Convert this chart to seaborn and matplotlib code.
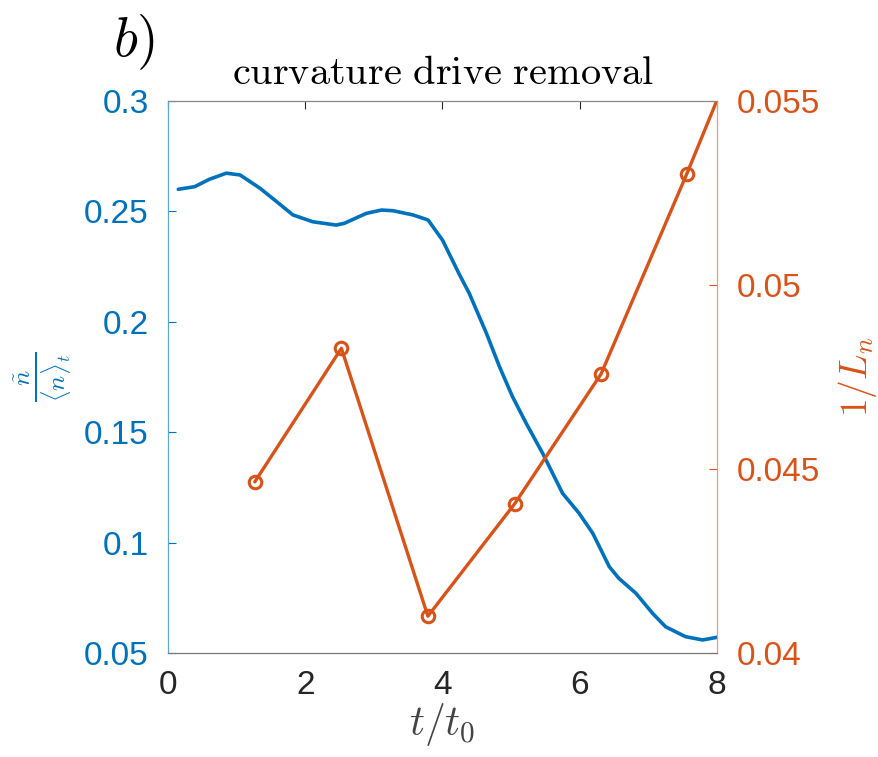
import matplotlib
matplotlib.use("Agg")
import matplotlib.pyplot as plt
import seaborn as sns
import pandas as pd

# ---- data ----
t_blue = [0.15, 0.39, 0.6, 0.85, 1.05, 1.34, 1.58, 1.82, 2.11, 2.45, 2.57, 2.89, 3.11,
          3.28, 3.57, 3.79, 4.0, 4.25, 4.39, 4.64, 4.83, 5.02, 5.22, 5.46, 5.75, 5.99,
          6.19, 6.43, 6.57, 6.82, 7.06, 7.25, 7.54, 7.79, 8.0]
n_fluct = [0.260, 0.2612, 0.2645, 0.2673, 0.2665, 0.2605, 0.2545, 0.2484, 0.2453, 0.2438,
           0.2446, 0.2491, 0.2506, 0.2503, 0.2484, 0.2461, 0.2370, 0.2212, 0.2129, 0.1948,
           0.1797, 0.1661, 0.1540, 0.1404, 0.1223, 0.1133, 0.1042, 0.0891, 0.0838, 0.0770,
           0.0680, 0.0619, 0.0574, 0.0559, 0.0571]

t_orange = [1.265, 2.527, 3.787, 5.05, 6.31, 7.56, 8.83]
inv_Ln = [0.04465, 0.04828, 0.0410, 0.04405, 0.04758, 0.05302, 0.0588]

xticks = [0, 2, 4, 6, 8]
yticks_left = [0.05, 0.1, 0.15, 0.2, 0.25, 0.3]
yticks_right = [0.04, 0.045, 0.05, 0.055]
ylabels_left = ["0.05", "0.1", "0.15", "0.2", "0.25", "0.3"]
ylabels_right = ["0.04", "0.045", "0.05", "0.055"]

blue = "#0072BD"
orange = "#D95319"
gray = "#262626"

sns.set_style("white")
plt.rcParams["font.family"] = ["Liberation Sans", "DejaVu Sans"]
plt.rcParams["mathtext.fontset"] = "cm"

fig = plt.figure(figsize=(8.79, 7.57), dpi=100)
ax = fig.add_axes([0.1911, 0.1374, 0.6246, 0.7292])
ax2 = ax.twinx()

df_b = pd.DataFrame({"t": t_blue, "n": n_fluct})
df_o = pd.DataFrame({"t": t_orange, "L": inv_Ln})

sns.lineplot(data=df_b, x="t", y="n", ax=ax, color=blue, lw=2.6, sort=False)
sns.lineplot(data=df_o, x="t", y="L", ax=ax2, color=orange, lw=2.4, sort=False,
             marker="o", markersize=9, markerfacecolor="none",
             markeredgecolor=orange, markeredgewidth=2.2)

ax.set_xlim(0, 8)
ax.set_ylim(0.05, 0.3)
ax2.set_ylim(0.04, 0.055)

ax.set_xticks(xticks)
ax.set_xticklabels([str(v) for v in xticks])
ax.set_yticks(yticks_left)
ax.set_yticklabels(ylabels_left)
ax2.set_yticks(yticks_right)
ax2.set_yticklabels(ylabels_right)

ax.tick_params(axis="x", direction="in", length=6, width=0.8, colors=gray,
               labelsize=24, pad=12, top=True)
ax.tick_params(axis="y", direction="in", length=6, width=0.8, colors=blue,
               labelsize=24, pad=14)
ax2.tick_params(axis="y", direction="in", length=6, width=0.8, colors=orange,
                labelsize=24, pad=14)

for a in (ax, ax2):
    for s in a.spines.values():
        s.set_linewidth(0.8)
ax.spines["top"].set_color("#888888")
ax.spines["bottom"].set_color("#777777")
ax2.spines["top"].set_color("#888888")
ax2.spines["bottom"].set_color("#777777")
ax.spines["left"].set_color("#5AA6DA")
ax2.spines["left"].set_color("#5AA6DA")
ax.spines["right"].set_color("#EE9A78")
ax2.spines["right"].set_color("#EE9A78")

ax.set_xlabel(r"$t/t_0$", fontsize=30, color="#444444", labelpad=0)
ax.set_ylabel(r"$\frac{\tilde{n}}{\langle n\rangle_t}$", fontsize=26, color=blue,
              labelpad=8)
ax2.set_ylabel(r"$1/L_n$", fontsize=27, color=orange, labelpad=12)

ax.set_title(r"$\mathrm{curvature\ drive\ removal}$", fontsize=29, color="black", pad=12)
fig.text(0.153, 0.944, r"$b)$", fontsize=40, ha="center", va="center", color="black")

fig.savefig("out.png", dpi=100)
